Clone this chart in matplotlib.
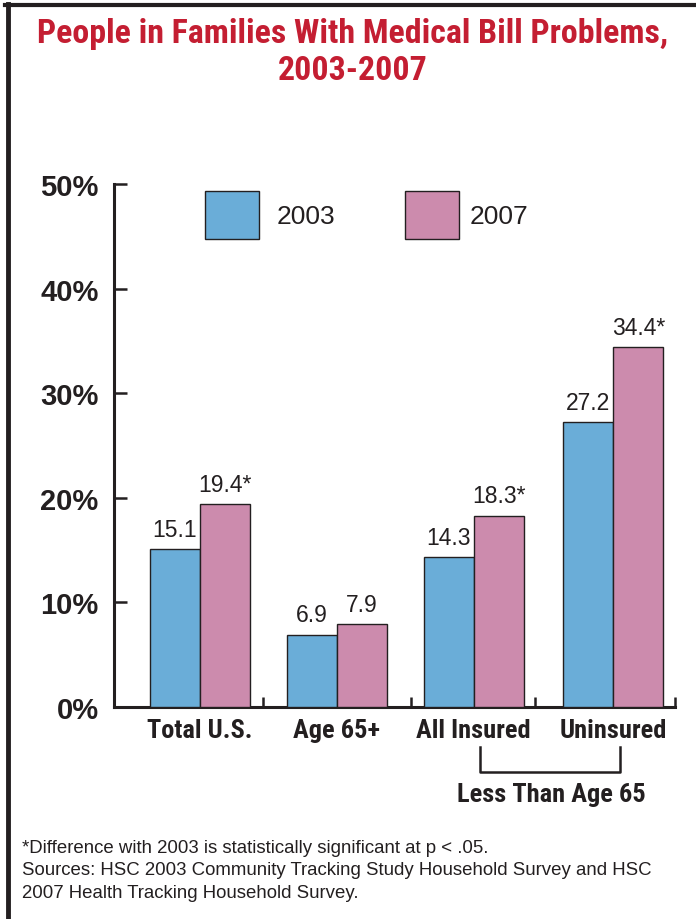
import matplotlib
matplotlib.use("Agg")
import matplotlib.pyplot as plt
import numpy as np
from matplotlib.lines import Line2D
from matplotlib.patches import Rectangle
from matplotlib import font_manager as fm

categories = ["Total U.S.", "Age 65+", "All Insured", "Uninsured"]
values_2003 = [15.1, 6.9, 14.3, 27.2]
values_2007 = [19.4, 7.9, 18.3, 34.4]
labels_2003 = ["15.1", "6.9", "14.3", "27.2"]
labels_2007 = ["19.4*", "7.9", "18.3*", "34.4*"]
series_names = ["2003", "2007"]
yticks = [0, 10, 20, 30, 40, 50]
ytick_labels = ["0%", "10%", "20%", "30%", "40%", "50%"]
title = "People in Families With Medical Bill Problems,\n2003-2007"
bracket_label = "Less Than Age 65"
footnote = ("*Difference with 2003 is statistically significant at p < .05.\n"
            "Sources: HSC 2003 Community Tracking Study Household Survey and HSC\n"
            "2007 Health Tracking Household Survey.")

BLUE = "#6AADD8"
PINK = "#CC8BAD"
RED = "#C41E32"
DARK = "#231F20"
installed = {f.name for f in fm.fontManager.ttflist}
cond_first = "Roboto Condensed" if "Roboto Condensed" in installed else "Fira Sans Condensed"
COND = [cond_first, "DejaVu Sans"]
SANS = ["Liberation Sans", "DejaVu Sans"]

W, H = 696, 920
fig = plt.figure(figsize=(W / 100, H / 100), dpi=100)

def fx(x):
    return x / W

def fy(y):
    return 1 - y / H

ax = fig.add_axes([fx(114), fy(708), fx(675) - fx(114), fy(185) - fy(708)])
x = np.arange(len(categories)) * 1.0
x[3] += 0.02
bw = 0.365
ax.bar(x - bw / 2, values_2003, width=bw, color=BLUE, edgecolor=DARK, linewidth=1.0, zorder=3)
ax.bar(x + bw / 2, values_2007, width=bw, color=PINK, edgecolor=DARK, linewidth=1.0, zorder=3)

for xi, v, lab in zip(x, values_2003, labels_2003):
    ax.annotate(lab, (xi - bw / 2, v), xytext=(0, 6), textcoords="offset points",
                ha="center", va="bottom", fontsize=16.5, family=SANS, color=DARK)
for xi, v, lab in zip(x, values_2007, labels_2007):
    ax.annotate(lab, (xi + bw / 2, v), xytext=(0, 6), textcoords="offset points",
                ha="center", va="bottom", fontsize=16.5, family=SANS, color=DARK)

ax.set_xlim(-0.628, 3.47)
ax.set_ylim(0, 50)
ax.set_yticks(yticks)
ax.set_yticklabels(ytick_labels, fontsize=21, fontweight="bold", family=SANS, color=DARK)
ax.tick_params(axis="y", direction="in", length=9.5, width=1.8, color=DARK, pad=11)
ax.set_xticks([0.46, 1.54, 2.45, 3.47])
ax.set_xticklabels([])
ax.tick_params(axis="x", direction="in", length=7.5, width=1.8, color=DARK)
for s in ["top", "right"]:
    ax.spines[s].set_visible(False)
for s in ["left", "bottom"]:
    ax.spines[s].set_linewidth(2.2)
    ax.spines[s].set_color(DARK)

for xi, c in zip(x, categories):
    ax.annotate(c, (xi, 0), xytext=(0, -8), textcoords="offset points",
                ha="center", va="top", fontsize=19, fontweight="bold", family=COND, color=DARK)

for (x0, tx), col, name in zip([(205, 277), (405, 470)], [BLUE, PINK], series_names):
    fig.add_artist(Rectangle((fx(x0), fy(240)), fx(54), 48 / H,
                             facecolor=col, edgecolor=DARK, linewidth=1.0, transform=fig.transFigure))
    fig.text(fx(tx), fy(217), name, ha="left", va="center", fontsize=19, family=SANS, color=DARK)

bx0, bx1, by0, by1 = 480, 620, 748, 773
fig.add_artist(Line2D([fx(bx0), fx(bx0), fx(bx1), fx(bx1)], [fy(by0), fy(by1), fy(by1), fy(by0)],
                      color=DARK, linewidth=1.8, transform=fig.transFigure))
fig.text(fx(551), fy(795), bracket_label, ha="center", va="center", fontsize=19,
         fontweight="bold", family=COND, color=DARK)

fig.text(fx(353), fy(53), title, ha="center", va="center", fontsize=24.4, fontweight="bold",
         family=COND, color=RED, linespacing=1.2)

fig.text(fx(22), fy(871), footnote, ha="left", va="center", fontsize=13.4, family=SANS,
         color=DARK, linespacing=1.44)

fig.add_artist(Line2D([fx(5), fx(696)], [fy(6), fy(6)], color=DARK, linewidth=3.0,
                      transform=fig.transFigure))
fig.add_artist(Line2D([fx(8), fx(8)], [fy(5), fy(920)], color=DARK, linewidth=3.5,
                      transform=fig.transFigure))

fig.savefig("out.png", dpi=100)
